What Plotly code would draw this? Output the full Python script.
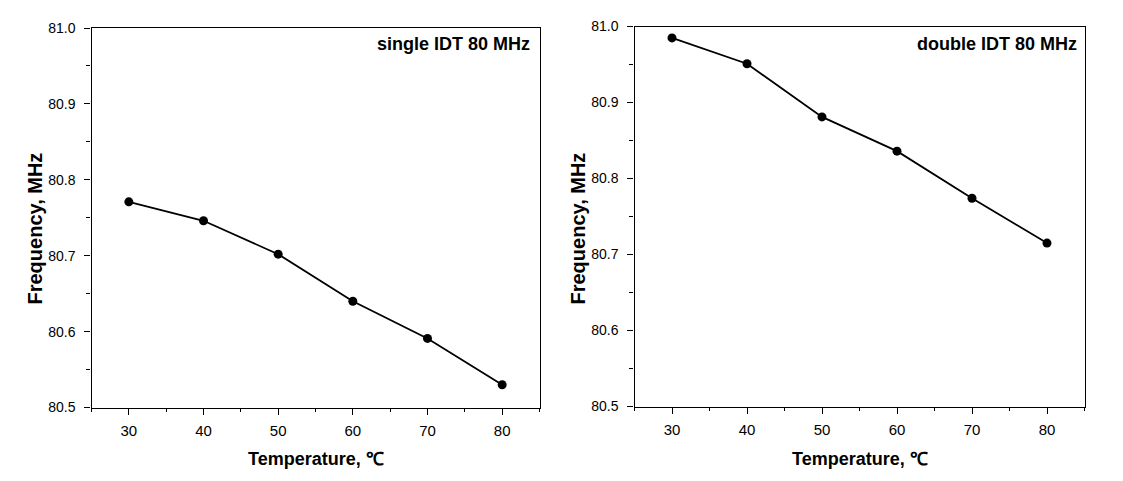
import plotly.graph_objects as go

temperature = [30, 40, 50, 60, 70, 80]
freq_single = [80.771, 80.746, 80.702, 80.640, 80.591, 80.530]
freq_double = [80.985, 80.951, 80.881, 80.836, 80.774, 80.715]
x_ticks = [30, 40, 50, 60, 70, 80]
y_ticks = [80.5, 80.6, 80.7, 80.8, 80.9, 81.0]
y_ticklabels = ["80.5", "80.6", "80.7", "80.8", "80.9", "81.0"]
panel_labels = ["single IDT 80 MHz", "double IDT 80 MHz"]
x_title = "Temperature, ℃"
y_title = "Frequency, MHz"

W, H = 1123, 481
FONT = "Liberation Sans, Arial, sans-serif"

# panel geometry in pixels: (left, right, top, bottom)
panels = [(91.5, 539.5, 28.0, 407.5), (634.5, 1084.5, 26.5, 406.5)]
label_right_gap = [8, 6]

fig = go.Figure()
series = [freq_single, freq_double]
for i, ys in enumerate(series):
    sfx = "" if i == 0 else "2"
    fig.add_trace(go.Scatter(x=temperature, y=ys, mode="lines+markers",
                             line=dict(color="black", width=1.8),
                             marker=dict(color="black", size=9, symbol="circle"),
                             xaxis="x" + sfx, yaxis="y" + sfx, showlegend=False))

def xax(p, anchor):
    return dict(domain=[p[0] / W, p[1] / W], anchor=anchor, range=[25, 85], tickvals=x_ticks,
                automargin=False,
                ticks="outside", ticklen=6, tickwidth=1, tickcolor="black",
                showline=True, linecolor="black", linewidth=1.3, mirror=True,
                showgrid=False, zeroline=False, ticklabelstandoff=3,
                tickfont=dict(family=FONT, size=15, color="black"),
                minor=dict(dtick=5, tick0=25, ticks="outside", ticklen=3,
                           tickcolor="black", showgrid=False))

def yax(p, anchor):
    return dict(domain=[1 - p[3] / H, 1 - p[2] / H], anchor=anchor, range=[80.5, 81.0],
                automargin=False,
                tickvals=y_ticks, ticktext=y_ticklabels,
                ticks="outside", ticklen=6, tickwidth=1, tickcolor="black",
                showline=True, linecolor="black", linewidth=1.3, mirror=True,
                showgrid=False, zeroline=False, ticklabelstandoff=6,
                tickfont=dict(family=FONT, size=14, color="black"),
                minor=dict(dtick=0.05, tick0=80.5, ticks="outside", ticklen=4,
                           tickcolor="black", showgrid=False))

annotations = []
for i, (p, lab) in enumerate(zip(panels, panel_labels)):
    annotations.append(dict(x=(p[1] - label_right_gap[i]) / W, y=1 - 44 / H,
                            xref="paper", yref="paper",
                            text="<b>%s</b>" % lab, showarrow=False,
                            xanchor="right", yanchor="middle",
                            font=dict(family=FONT, size=18, color="black")))
    annotations.append(dict(x=(p[0] + p[1]) / 2 / W, y=1 - 459 / H,
                            xref="paper", yref="paper",
                            text="<b>%s</b>" % x_title, showarrow=False,
                            xanchor="center", yanchor="middle",
                            font=dict(family=FONT, size=18, color="black")))
    annotations.append(dict(x=(p[0] - 57) / W, y=1 - 229 / H,
                            xref="paper", yref="paper",
                            text="<b>%s</b>" % y_title, showarrow=False, textangle=-90,
                            xanchor="center", yanchor="middle",
                            font=dict(family=FONT, size=20, color="black")))

fig.update_layout(
    template="none",
    width=W, height=H,
    margin=dict(l=0, r=0, t=0, b=0, pad=0),
    paper_bgcolor="white", plot_bgcolor="white",
    xaxis=xax(panels[0], "y"), yaxis=yax(panels[0], "x"),
    xaxis2=xax(panels[1], "y2"), yaxis2=yax(panels[1], "x2"),
    annotations=annotations,
)

fig.write_html("out.html", config={"displayModeBar": False},
               post_script="document.body.style.margin='0';document.body.style.overflow='hidden';")
